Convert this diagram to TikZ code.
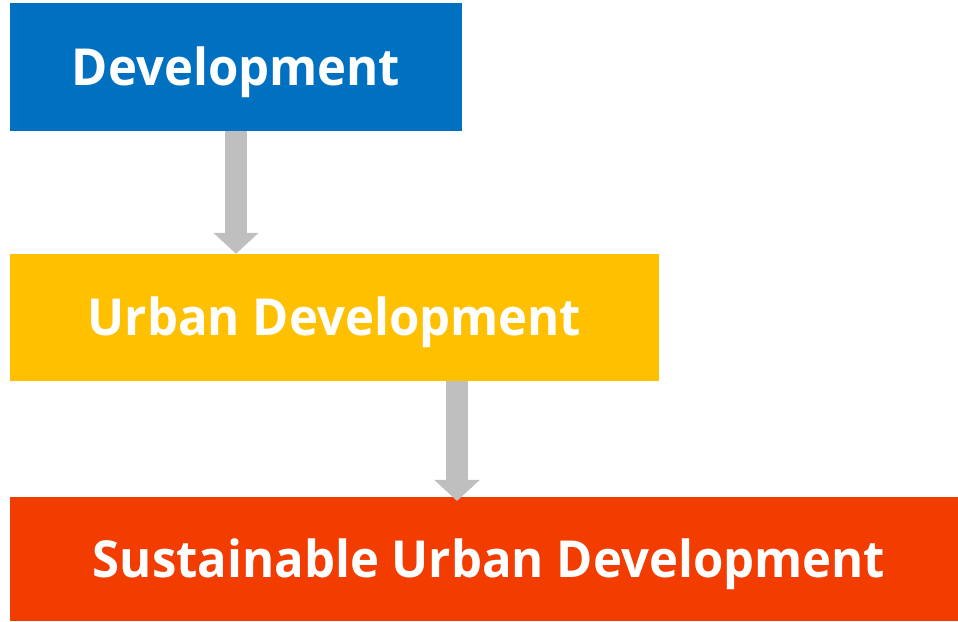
\documentclass[tikz,border=0pt]{standalone}
\usepackage{fontspec}
\setmainfont[FakeStretch=0.962]{Open Sans}
\usetikzlibrary{arrows.meta}
\definecolor{devblue}{HTML}{0070C0}
\definecolor{urbyellow}{HTML}{FFC000}
\definecolor{susorange}{HTML}{F33C00}
\definecolor{arrgray}{HTML}{BFBFBF}
\tikzset{
  box/.style={fill=#1, draw=none, inner sep=0pt, text=white,
    font=\fontsize{51}{51}\selectfont\bfseries, text height=37pt, text depth=0pt},
  bigarrow/.style={draw=arrgray, line width=22pt, line cap=butt,
    -{Triangle[width=44pt, length=21pt]}}
}
\begin{document}
\begin{tikzpicture}[x=1pt,y=1pt]
\useasboundingbox (0,0) rectangle (958,621);
\node[box=devblue, minimum width=452pt, minimum height=128pt] (b1) at (236,554) {Development};
\node[box=urbyellow, minimum width=649pt, minimum height=127pt] (b2) at (334.5,303.5) {Urban Development};
\node[box=susorange, minimum width=948pt, minimum height=124pt] (b3) at (484,62) {\hspace*{10pt}Sustainable Urban Development};
\coordinate (a2s) at (457,239.5);
\coordinate (a2e) at (457,120);
\draw[bigarrow] (b1.south) -- (b1.south |- b2.north);
\draw[bigarrow] (a2s) -- (a2e);
\end{tikzpicture}
\end{document}
